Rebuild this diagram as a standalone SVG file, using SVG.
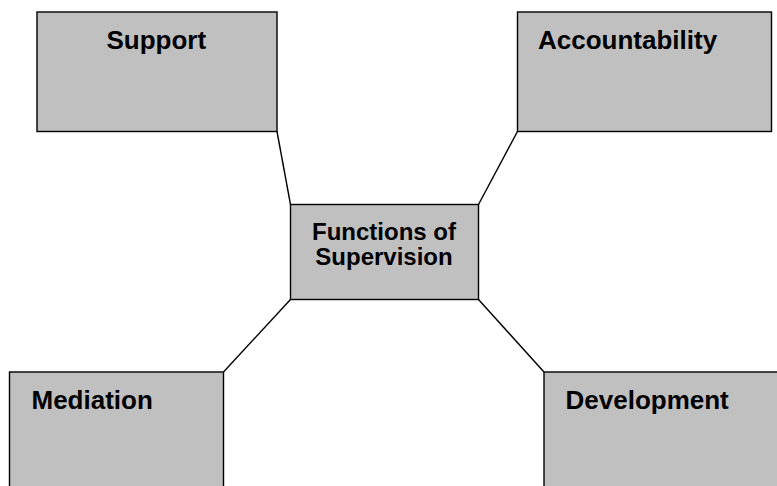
<svg xmlns="http://www.w3.org/2000/svg" width="777" height="486" viewBox="0 0 777 486">
<style>
.box{fill:#c0c0c0;stroke:#000;stroke-width:1.4}
.lbl{font-family:"Liberation Sans",Arial,sans-serif;font-weight:bold;font-size:26px;fill:#000}
.ctr{font-family:"Liberation Sans",Arial,sans-serif;font-weight:bold;font-size:24px;fill:#000;text-anchor:middle}
.conn{stroke:#000;stroke-width:1.4;fill:none}
</style>
<rect width="777" height="486" fill="#fff"/>
<g id="connectors">
<line class="conn" x1="277" y1="131.5" x2="290.5" y2="204.5"/>
<line class="conn" x1="517.5" y1="131.5" x2="478.5" y2="204.5"/>
<line class="conn" x1="290.5" y1="299.5" x2="223.5" y2="372"/>
<line class="conn" x1="478.5" y1="299.5" x2="544" y2="372"/>
</g>
<g id="support">
<rect class="box" x="37" y="12" width="240" height="119.5"/>
<text class="lbl" x="106.5" y="48.5">Support</text>
</g>
<g id="accountability">
<rect class="box" x="517.5" y="12" width="254" height="119.5"/>
<text class="lbl" x="538" y="49">Accountability</text>
</g>
<g id="center">
<rect class="box" x="290.5" y="204.5" width="188" height="95"/>
<text class="ctr" x="384" y="239.5">Functions of</text>
<text class="ctr" x="384" y="264.5">Supervision</text>
</g>
<g id="mediation">
<rect class="box" x="9.5" y="372" width="214" height="130"/>
<text class="lbl" x="31.5" y="408.5">Mediation</text>
</g>
<g id="development">
<rect class="box" x="544" y="372" width="260" height="130"/>
<text class="lbl" x="565.5" y="408.5">Development</text>
</g>
</svg>
